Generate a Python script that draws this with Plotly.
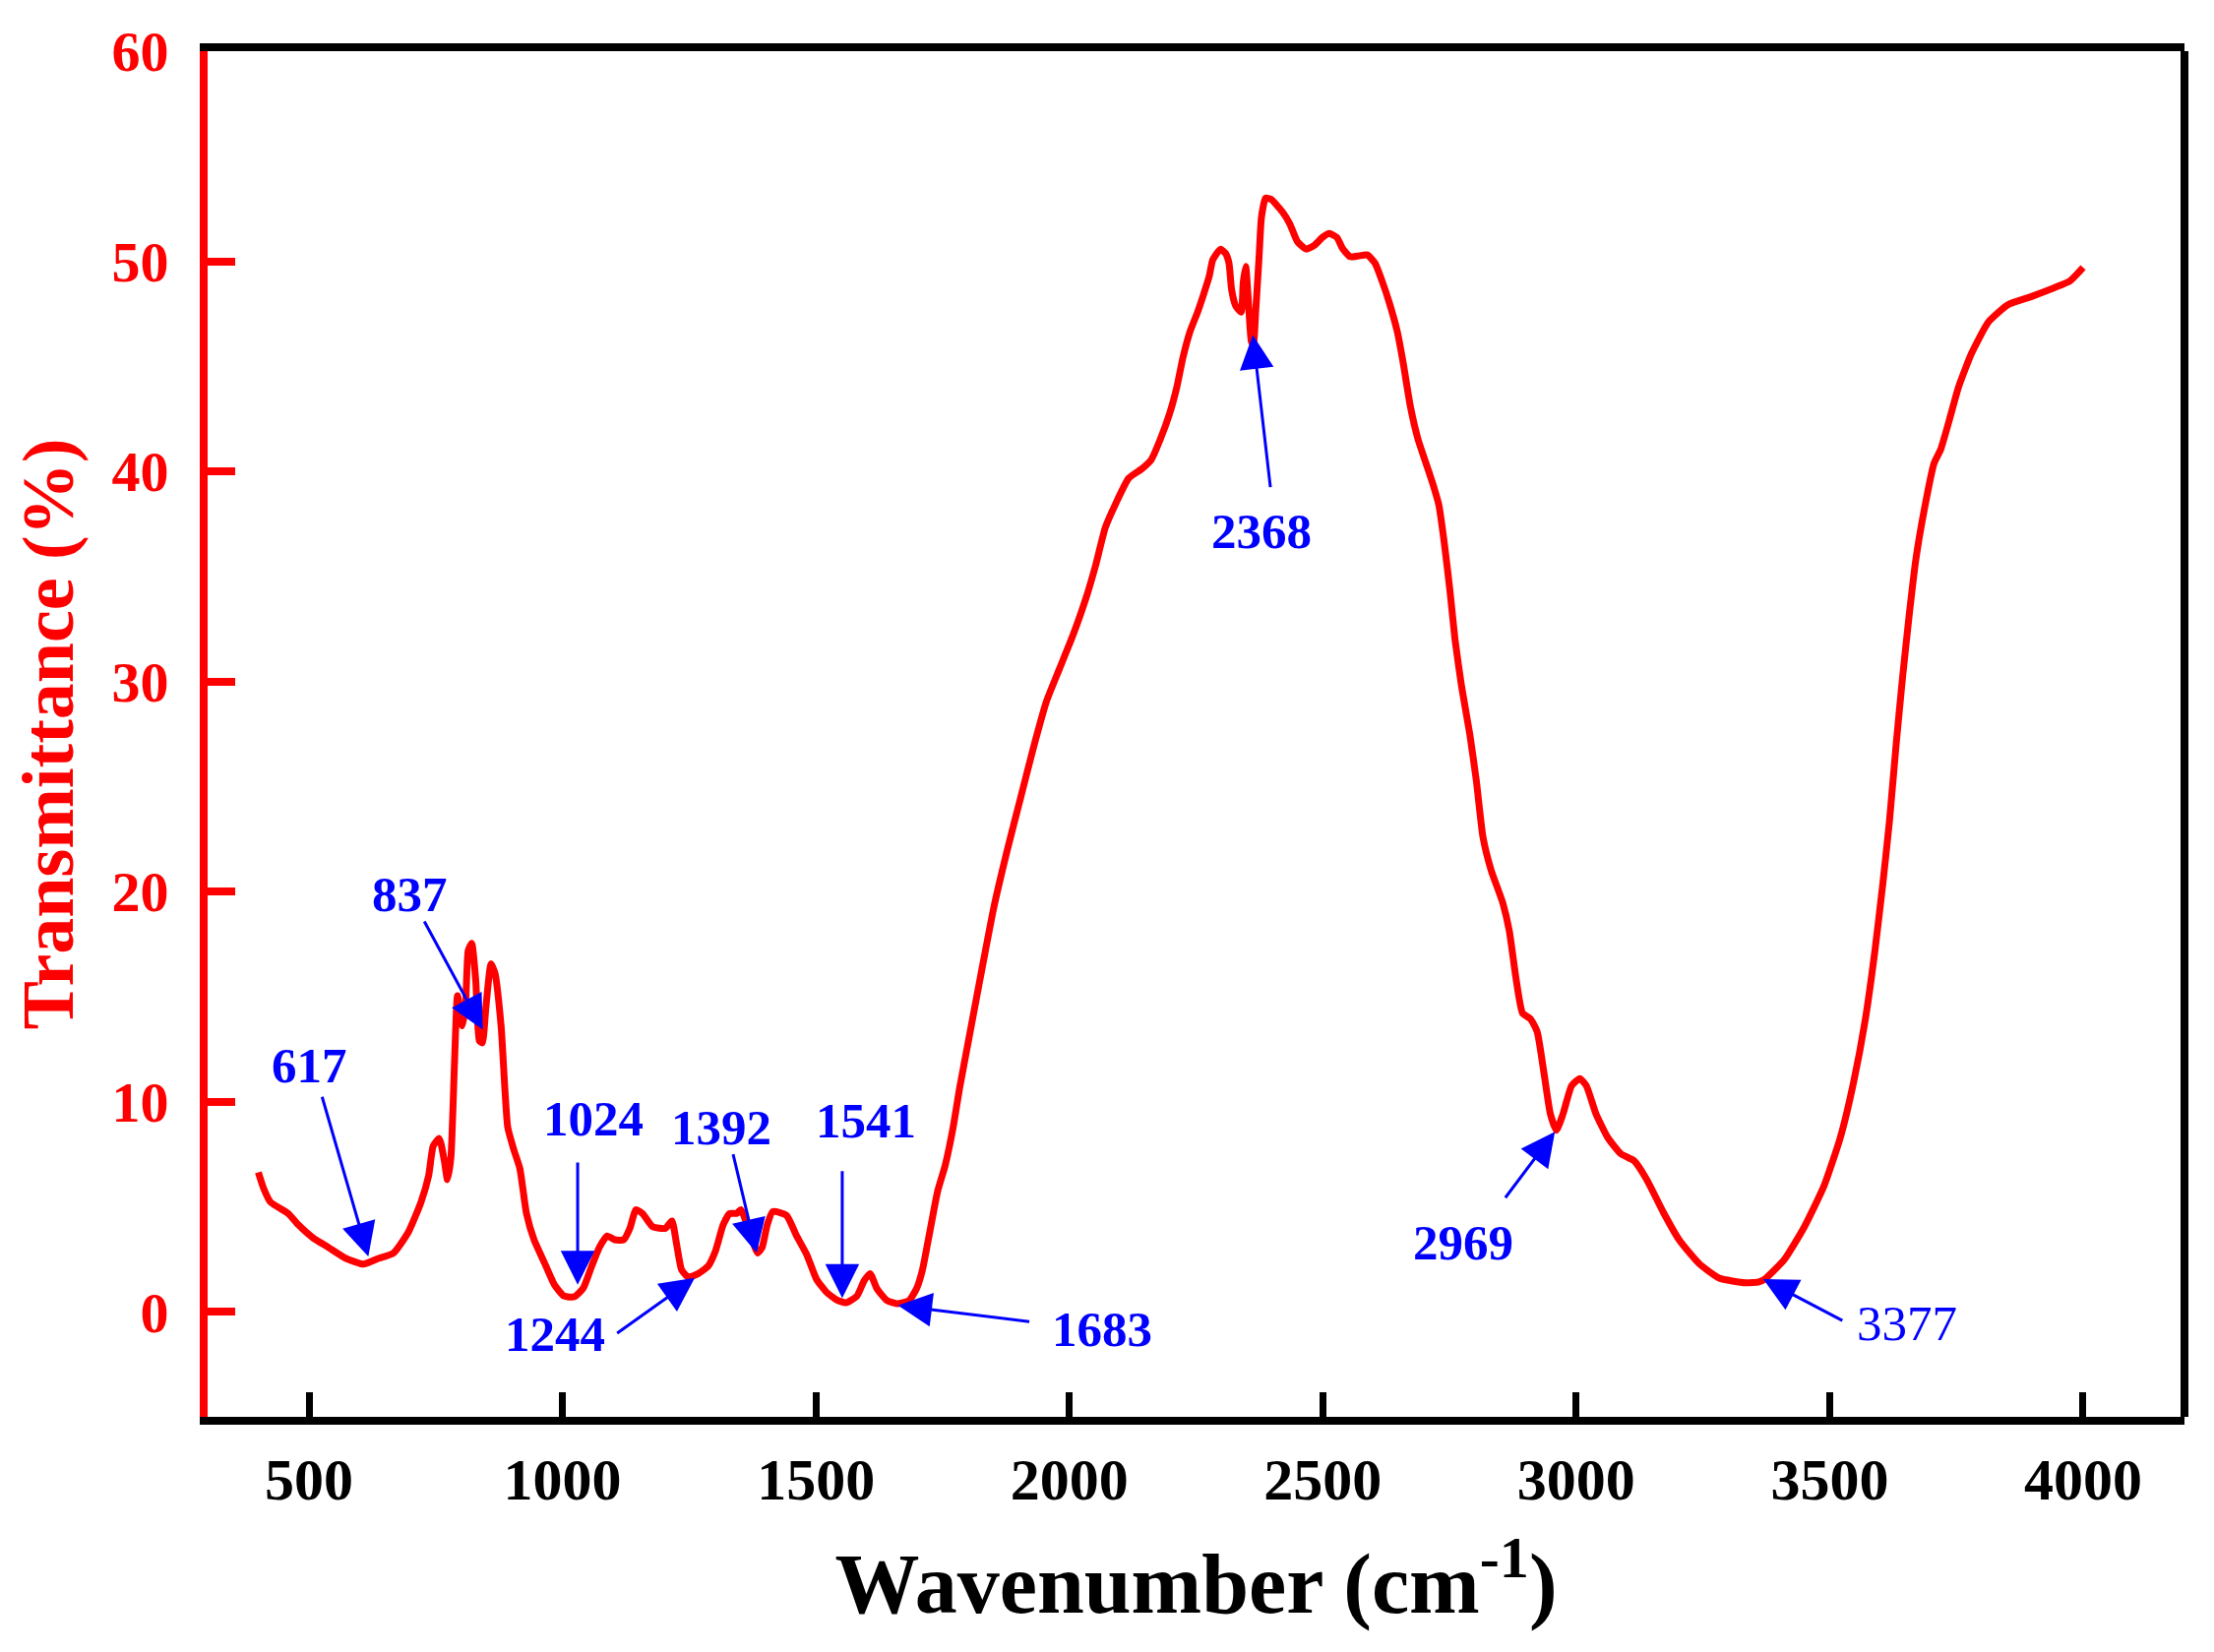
import plotly.graph_objects as go

# FTIR spectrum
wavenumber = [
    400, 411, 424, 459, 479, 508, 538, 573, 607, 637, 667, 696, 721, 736, 745,
    757, 767, 773, 780, 787, 793, 803, 809, 814, 821, 829, 836, 842, 849, 859,
    867, 879, 892, 904, 916, 929, 944, 964, 984, 1003, 1023, 1041, 1058, 1073,
    1088, 1103, 1121, 1133, 1145, 1158, 1178, 1203, 1216, 1225, 1235, 1248,
    1268, 1288, 1302, 1317, 1330, 1344, 1352, 1367, 1385, 1394, 1404, 1415,
    1442, 1462, 1482, 1501, 1521, 1541, 1559, 1581, 1595, 1607, 1620, 1640,
    1660, 1684, 1699, 1710, 1725, 1740, 1755, 1770, 1784, 1800, 1826, 1851,
    1877, 1903, 1929, 1955, 1981, 2007, 2033, 2052, 2071, 2091, 2117, 2143,
    2162, 2179, 2198, 2212, 2224, 2238, 2253, 2264, 2276, 2283, 2298, 2308,
    2315, 2320, 2328, 2339, 2343, 2348, 2353, 2359, 2363, 2368, 2374, 2379,
    2387, 2398, 2421, 2435, 2450, 2467, 2484, 2499, 2513, 2528, 2539, 2554,
    2569, 2588, 2603, 2617, 2632, 2647, 2658, 2673, 2688, 2703, 2718, 2729,
    2740, 2751, 2761, 2774, 2790, 2803, 2816, 2832, 2855, 2868, 2881, 2894,
    2910, 2923, 2936, 2949, 2961, 2974, 2991, 3007, 3020, 3039, 3062, 3088,
    3114, 3139, 3172, 3204, 3243, 3282, 3334, 3360, 3372, 3411, 3450, 3489,
    3521, 3547, 3570, 3589, 3605, 3618, 3631, 3644, 3657, 3670, 3686, 3706,
    3719, 3735, 3754, 3780, 3813, 3851, 3897, 3942, 3974, 4000,
]
transmittance = [
    6.64, 5.84, 5.22, 4.68, 4.14, 3.52, 3.07, 2.54, 2.27, 2.54, 2.80, 3.79,
    5.22, 6.47, 7.89, 8.25, 7.18, 6.29, 7.36, 11.82, 15.04, 13.61, 14.68,
    17.18, 17.54, 15.75, 12.9, 12.8, 14.5, 16.56, 16.1, 13.6, 8.79, 7.72,
    6.82, 4.68, 3.43, 2.36, 1.29, 0.75, 0.71, 1.12, 2.19, 3.07, 3.61, 3.43,
    3.43, 3.97, 4.86, 4.68, 4.05, 3.97, 4.32, 3.25, 2.0, 1.65, 1.82, 2.19,
    2.9, 4.14, 4.68, 4.68, 4.86, 3.97, 2.80, 3.07, 4.14, 4.77, 4.59, 3.61,
    2.72, 1.56, 0.93, 0.57, 0.43, 0.75, 1.47, 1.82, 1.12, 0.54, 0.39, 0.54,
    1.12, 1.97, 3.84, 5.72, 6.96, 8.68, 10.71, 12.77, 16.11, 19.24, 21.92,
    24.38, 26.83, 29.06, 30.63, 32.19, 33.98, 35.54, 37.33, 38.44, 39.67,
    40.12, 40.57, 41.5, 42.76, 44.0, 45.4, 46.65, 47.58, 48.36, 49.29, 50.07,
    50.57, 50.38, 49.91, 48.67, 47.89, 47.58, 48.98, 49.76, 48.2, 46.18, 46.0,
    47.74, 50.07, 52.09, 53.0, 52.95, 52.33, 51.78, 50.93, 50.58, 50.77,
    51.13, 51.32, 51.13, 50.61, 50.22, 50.25, 50.3, 49.91, 49.06, 47.97,
    46.65, 45.25, 43.07, 41.52, 40.43, 39.34, 38.4, 36.54, 34.3, 31.97, 29.74,
    27.5, 25.27, 22.6, 21.03, 19.47, 18.13, 15.9, 14.22, 13.93, 13.33, 11.43,
    9.42, 8.64, 9.42, 10.76, 11.1, 10.76, 9.42, 8.3, 7.52, 7.19, 6.3, 4.73,
    3.39, 2.28, 1.6, 1.38, 1.42, 1.55, 2.5, 4.04, 6.0, 8.29, 10.9, 13.86,
    17.13, 20.4, 23.36, 26.96, 30.24, 33.18, 35.8, 38.09, 40.39, 41.04, 42.35,
    43.99, 45.62, 47.1, 47.92, 48.31, 48.73, 49.06, 49.7,
]

# peak labels: text position, arrow tail and arrow tip (data coordinates)
peak_labels = ["617", "837", "1024", "1244", "1392", "1541", "1683", "2368", "2969", "3377"]
label_x = [500, 699, 1060, 986, 1314, 1598, 2065, 2380, 2777, 3652]
label_y = [11.73, 19.86, 9.18, -1.07, 8.75, 9.11, -0.84, 37.16, 3.28, -0.56]
tail_x = [525, 726, 1030, 1105, 1336, 1552, 1924, 2397, 2858, 3528]
tail_y = [10.3, 18.65, 7.18, -1.07, 7.57, 6.77, -0.48, 39.18, 5.36, -0.45]
tip_x = [617, 843, 1030, 1261, 1383, 1552, 1662, 2362, 2958, 3369]
tip_y = [2.63, 13.43, 1.29, 1.61, 2.80, 0.66, 0.30, 46.49, 8.57, 1.56]
label_bold = [True, True, True, True, True, True, True, True, True, False]

x_ticks = [500, 1000, 1500, 2000, 2500, 3000, 3500, 4000]
y_ticks = [0, 10, 20, 30, 40, 50, 60]

font_family = "Liberation Serif"
red = "#FF0000"
blue = "#0000FF"

fig = go.Figure(go.Scatter(
    x=wavenumber,
    y=transmittance,
    mode="lines",
    line=dict(color=red, width=7, shape="spline", smoothing=0.5),
    hoverinfo="skip",
))

for i in range(len(peak_labels)):
    fig.add_annotation(
        x=tip_x[i], y=tip_y[i], ax=tail_x[i], ay=tail_y[i],
        xref="x", yref="y", axref="x", ayref="y",
        text="", showarrow=True,
        arrowhead=2, arrowsize=2.3, arrowwidth=3, arrowcolor=blue,
    )
    fig.add_annotation(
        x=label_x[i], y=label_y[i], xref="x", yref="y",
        text=peak_labels[i], showarrow=False,
        xanchor="center", yanchor="middle",
        font=dict(family=font_family, size=51, color=blue,
                  weight="bold" if label_bold[i] else "normal"),
    )

# right border is black, the left (y) axis is red
fig.add_shape(type="line", xref="paper", yref="paper", x0=1, x1=1, y0=0, y1=1,
              line=dict(color="black", width=8))

# the page body adds an 8 px margin, so the figure is a little smaller than the window
fig.update_layout(
    width=2234,
    height=1663,
    margin=dict(l=203, r=22, t=39, b=231),
    plot_bgcolor="white",
    paper_bgcolor="white",
    showlegend=False,
    xaxis=dict(
        range=[300, 4200],
        tickvals=x_ticks,
        ticks="inside",
        ticklen=25,
        tickwidth=7,
        tickcolor="black",
        showline=True,
        linecolor="black",
        linewidth=8,
        mirror=True,
        showgrid=False,
        zeroline=False,
        ticklabelstandoff=4,
        tickfont=dict(family=font_family, size=60, color="black", weight="bold"),
        title=dict(
            text="Wavenumber (cm<sup>-1</sup>)",
            font=dict(family=font_family, size=86, color="black", weight="bold"),
            standoff=46,
        ),
    ),
    yaxis=dict(
        range=[-5, 60],
        tickvals=y_ticks,
        ticks="inside",
        ticklen=28,
        tickwidth=8,
        tickcolor=red,
        showline=True,
        linecolor=red,
        linewidth=8,
        showgrid=False,
        zeroline=False,
        ticklabelstandoff=20,
        tickfont=dict(family=font_family, size=58, color=red, weight="bold"),
        title=dict(
            text="Transmittance (%)",
            font=dict(family=font_family, size=74, color=red, weight="bold"),
            standoff=26,
        ),
    ),
)

fig.write_html("out.html")
